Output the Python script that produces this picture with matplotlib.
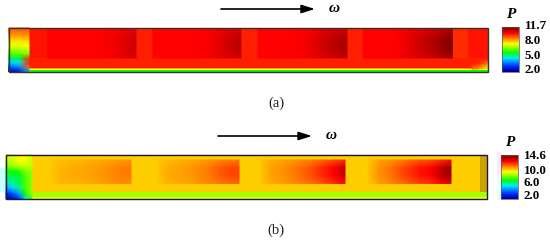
import matplotlib
matplotlib.use("Agg")
import matplotlib.pyplot as plt
from matplotlib.colors import LinearSegmentedColormap, Normalize
from matplotlib.patches import Rectangle
import numpy as np

# -------------------------------------------------------------
# Pressure values
# -------------------------------------------------------------
# (a) pockets, left to right along the circumference
a_p1 = [10.3, 10.3, 10.3, 10.3, 10.3, 10.35, 10.45, 10.65, 10.85]
a_p2 = [10.3, 10.3, 10.3, 10.3, 10.35, 10.4, 10.6, 10.85, 11.0]
a_p3 = [10.3, 10.3, 10.3, 10.35, 10.4, 10.6, 10.85, 11.05, 11.2]
a_p4 = [10.3, 10.3, 10.3, 10.35, 10.55, 10.8, 11.05, 11.3, 11.6]
a_land = 10.05
a_step = [10.15, 9.95, 10.15]
a_film = [8.9, 8.0, 6.0]
a_inlet = [
    [9.5, 9.5, 9.6],
    [9.2, 9.2, 9.3],
    [8.8, 8.8, 8.9],
    [8.3, 8.3, 8.4],
    [7.9, 7.9, 8.0],
    [7.3, 7.3, 7.6],
    [6.6, 6.7, 7.0],
    [5.6, 5.8, 9.9],
    [4.6, 5.0, 9.9],
    [3.5, 4.0, 9.5],
    [2.4, 2.6, 4.5],
]
a_outlet = [
    [10.05, 10.05, 10.05, 10.0],
    [10.05, 10.0, 9.6, 9.0],
    [9.3, 8.9, 8.3, 7.6],
]

# (b)
b_p1 = [10.45, 10.7, 10.8, 10.85, 10.95, 11.05, 11.2, 11.35, 11.4]
b_p2 = [10.45, 10.8, 10.9, 11.0, 11.2, 11.4, 11.7, 11.95, 12.0]
b_p3 = [10.5, 10.95, 11.1, 11.35, 11.6, 11.95, 12.4, 12.9, 13.6]
b_p4 = [10.5, 11.1, 11.4, 11.8, 12.2, 12.6, 12.8, 13.5, 14.2]
b_land = 10.4
b_step = [10.4, 10.4, 10.4, 10.6]
b_film = [8.9, 9.6]
b_inlet = [
    [9.3, 9.5, 9.8, 9.8, 9.2],
    [9.1, 9.3, 9.7, 9.7, 9.2],
    [8.6, 8.8, 9.2, 9.3, 9.2],
    [7.5, 7.3, 7.5, 8.5, 8.7],
    [6.8, 6.8, 7.0, 8.0, 8.7],
    [6.2, 6.4, 6.8, 8.0, 8.8],
    [5.0, 5.6, 6.5, 8.0, 8.8],
    [3.3, 3.9, 5.0, 7.5, 8.8],
    [2.2, 2.5, 3.5, 6.0, 8.0],
]

# how far the pocket peak reaches at each height of the pocket
pocket_rows = [0.6, 1.0, 1.0, 0.75]

a_ticks = ["11.7", "8.0", "5.0", "2.0"]
b_ticks = ["14.6", "10.0", "6.0", "2.0"]
a_range = (2.0, 11.7)
b_range = (2.0, 14.6)

cmap = LinearSegmentedColormap.from_list("pressure", [
    (0.00, "#00008c"), (0.10, "#0020ff"), (0.30, "#00e8ff"), (0.42, "#00ff00"),
    (0.62, "#ffff00"), (0.74, "#ff8000"), (0.86, "#ff0000"), (1.00, "#780000"),
])


def smooth_patch(ax, x0, x1, y0, y1, vals, norm, zorder=4):
    vals = np.atleast_2d(vals)
    xs = np.linspace(x0, x1, vals.shape[1])
    ys = np.linspace(y0, y1, vals.shape[0])
    ax.pcolormesh(xs, ys, vals, cmap=cmap, norm=norm, shading="gouraud", zorder=zorder)


def draw_panel(ax, x_split, x1, y0, pockets, pocket_x, land, step, y_pocket,
               film, y_film, norm):
    ax.add_patch(Rectangle((x_split, y0), x1 - x_split, y_film[0] - y0,
                           color=cmap(norm(land)), lw=0, zorder=1))
    for (sx0, sx1), val in step:
        ax.add_patch(Rectangle((sx0, y0), sx1 - sx0, y_pocket[1] - y0,
                               color=cmap(norm(val)), lw=0, zorder=1.5))
    for vals, (px0, px1) in zip(pockets, pocket_x):
        vals = np.array(vals)
        grid = [vals[0] + w * (vals - vals[0]) for w in pocket_rows]
        smooth_patch(ax, px0, px1, y_pocket[0], y_pocket[1], grid, norm, zorder=2)
    ax.pcolormesh([x_split, x1], y_film, np.array(film)[:, None], cmap=cmap,
                  norm=norm, shading="flat", zorder=3)


def colorbar(ax, x0, x1, y0, y1):
    grad = np.linspace(1, 0, 120)[:, None]
    ax.pcolormesh([x0, x1], np.linspace(y0, y1, 121), grad, cmap=cmap, vmin=0, vmax=1,
                  shading="flat", zorder=4)
    ax.add_patch(Rectangle((x0, y0), x1 - x0, y1 - y0, fill=False,
                           ec="#555555", lw=0.5, zorder=5))


serif = "Liberation Serif"
fig = plt.figure(figsize=(5.5, 2.4), dpi=100)
ax = fig.add_axes([0, 0, 1, 1])
ax.axis("off")

# -------------------------------------------------------------
# Panel a
# -------------------------------------------------------------
norm_a = Normalize(*a_range)
draw_panel(ax, 29, 487.5, 28,
           [a_p1, a_p2, a_p3, a_p4],
           [(47.5, 136), (153, 241), (258, 347), (363, 452.5)],
           a_land,
           [((29, 47.5), a_step[0]), ((452.5, 468), a_step[1]), ((468, 487.5), a_step[2])],
           [29, 58], a_film, [67.5, 68.5, 69.5, 71.5], norm_a)
smooth_patch(ax, 8.5, 29, 28, 71.5, a_inlet, norm_a)
smooth_patch(ax, 472, 487.5, 60, 69, a_outlet, norm_a)
ax.add_patch(Rectangle((8.5, 28), 479, 43.5, fill=False, ec="#333333", lw=1, zorder=6))
colorbar(ax, 501.5, 519, 26.7, 71.7)
ax.text(511, 15, "P", family=serif, fontsize=11, fontweight="bold", style="italic",
        ha="center", va="center")
for lab, y in zip(a_ticks, [26, 41, 56, 70]):
    ax.text(524.5, y, lab, family=serif, fontsize=9.4, fontweight="bold", va="center")
ax.annotate("", xy=(315, 9), xytext=(221, 9),
            arrowprops=dict(arrowstyle="-|>,head_length=0.8,head_width=0.25", color="black", lw=1.2,
                            shrinkA=0, shrinkB=0))
ax.text(334, 8.5, "ω", family=serif, fontsize=11, fontweight="bold", style="italic",
        ha="center", va="center")
ax.text(276, 103, "(a)", family=serif, fontsize=10.5, ha="center", va="center", color="#222222")

# -------------------------------------------------------------
# Panel b
# -------------------------------------------------------------
norm_b = Normalize(*b_range)
# JPEG halos around the panel
ax.add_patch(Rectangle((0, 168), 6, 24, color="#c8ffff", lw=0, zorder=0))
ax.add_patch(Rectangle((6, 153.5), 481, 1.5, color="#fdeef8", lw=0, zorder=0))
ax.add_patch(Rectangle((497, 152), 4, 24, color="#fdeaf8", lw=0, zorder=0))
ax.add_patch(Rectangle((497, 176), 4, 24, color="#e4ffff", lw=0, zorder=0))
draw_panel(ax, 32, 487, 155,
           [b_p1, b_p2, b_p3, b_p4],
           [(50, 131), (157, 239), (261, 345), (368, 451)],
           b_land,
           [((32, 50), b_step[0]), ((451, 468), b_step[1]),
            ((468, 480), b_step[2]), ((480, 487), b_step[3])],
           [160, 183.5], b_film, [192, 197, 199], norm_b)
ax.add_patch(Rectangle((480, 155), 7, 37, color="#c8a400", lw=0, zorder=2))
smooth_patch(ax, 6, 32, 155, 199, b_inlet, norm_b)
ax.add_patch(Rectangle((6, 155), 481, 44, fill=False, ec="#1a1a40", lw=1, zorder=6))
colorbar(ax, 500.7, 518, 155, 199)
ax.text(510, 143, "P", family=serif, fontsize=11, fontweight="bold", style="italic",
        ha="center", va="center")
for lab, y in zip(b_ticks, [156, 171, 183, 196]):
    ax.text(524, y, lab, family=serif, fontsize=9.4, fontweight="bold", va="center")
ax.annotate("", xy=(312, 136), xytext=(218, 136),
            arrowprops=dict(arrowstyle="-|>,head_length=0.8,head_width=0.25", color="black", lw=1.2,
                            shrinkA=0, shrinkB=0))
ax.text(331, 135.5, "ω", family=serif, fontsize=11, fontweight="bold", style="italic",
        ha="center", va="center")
ax.text(276, 230, "(b)", family=serif, fontsize=10.5, ha="center", va="center", color="#222222")

ax.set_xlim(0, 550)
ax.set_ylim(240, 0)
fig.savefig("out.png", dpi=100)
plt.close(fig)
